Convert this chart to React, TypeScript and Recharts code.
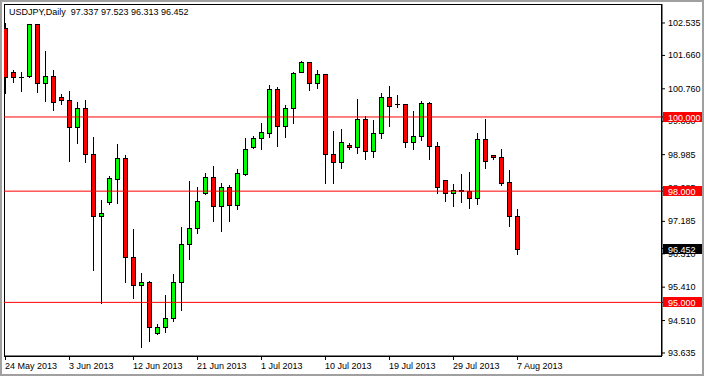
import { ComposedChart, Bar, XAxis, YAxis, ReferenceLine, ReferenceArea } from 'recharts';

// USDJPY daily candles, 24 May 2013 .. 7 Aug 2013 (Sunday bars included)
const opens = [
  102.39, 101.2, 101.09, 101.1, 102.5, 100.91, 101.1, 100.53, 100.46, 99.72,
  100.23, 98.99, 97.34, 97.72, 98.34, 98.89, 96.23, 95.46, 95.56, 94.17,
  94.33, 94.57, 95.56, 96.57, 97.0, 97.94, 98.37, 97.59, 98.12, 97.62,
  98.46, 99.18, 99.42, 99.58, 100.75, 99.77, 100.23, 101.22, 101.47, 100.91,
  101.15, 98.99, 98.79, 99.25, 99.18, 99.95, 99.09, 99.56, 100.53, 100.35,
  100.34, 99.32, 99.49, 100.37, 99.23, 98.3, 97.94, 98.02, 98.0, 97.82,
  99.4, 98.97, 98.91, 98.24, 97.337,
];
const highs = [
  102.54, 101.27, 101.21, 102.52, 102.52, 101.78, 101.27, 100.61, 100.7, 100.4,
  100.46, 99.47, 97.76, 98.41, 99.27, 98.97, 96.99, 95.79, 95.58, 94.42,
  95.2, 95.77, 97.04, 98.27, 98.1, 98.48, 98.68, 98.21, 98.17, 98.59,
  99.42, 99.5, 99.83, 100.86, 100.8, 100.32, 101.22, 101.51, 101.48, 101.27,
  101.16, 99.62, 99.68, 99.31, 100.48, 100.03, 99.92, 100.64, 100.84, 100.59,
  100.35, 100.17, 100.44, 100.4, 99.33, 98.31, 98.19, 98.46, 98.51, 99.56,
  99.95, 98.98, 99.13, 98.57, 97.523,
];
const lows = [
  100.64, 100.93, 100.71, 101.08, 100.68, 100.44, 100.19, 100.36, 98.82, 99.31,
  98.79, 95.87, 94.98, 97.66, 97.69, 95.56, 95.11, 93.79, 93.97, 94.15,
  94.21, 94.51, 94.79, 96.18, 96.88, 97.93, 97.2, 96.93, 97.2, 97.52,
  98.43, 99.17, 99.14, 99.47, 99.22, 99.47, 99.85, 101.21, 100.73, 100.79,
  98.21, 98.23, 98.63, 99.13, 99.04, 98.87, 98.92, 99.44, 99.77, 100.26,
  99.2, 99.13, 99.38, 98.86, 97.94, 97.74, 97.61, 97.7, 97.55, 97.65,
  98.63, 98.86, 98.17, 97.06, 96.313,
];
const closes = [
  101.07, 101.07, 101.08, 102.5, 100.91, 101.1, 100.41, 100.47, 99.72, 100.23,
  98.99, 97.34, 97.41, 98.35, 98.89, 96.23, 95.46, 95.56, 94.33, 94.33,
  94.57, 95.56, 96.57, 97.0, 97.74, 98.37, 97.59, 98.12, 97.62, 98.48,
  99.15, 99.42, 99.59, 100.75, 99.77, 100.23, 101.18, 101.47, 100.91, 101.15,
  98.99, 98.79, 99.32, 99.18, 99.95, 99.09, 99.56, 100.53, 100.3, 100.34,
  99.32, 99.49, 100.37, 99.23, 98.12, 97.94, 98.03, 98.01, 97.82, 99.4,
  98.82, 98.91, 98.23, 97.33, 96.452,
];

const tickBars = [0, 8, 16, 24, 32, 40, 48, 56, 64];
const tickLabels = [
  '24 May 2013', '3 Jun 2013', '12 Jun 2013', '21 Jun 2013', '1 Jul 2013',
  '10 Jul 2013', '19 Jul 2013', '29 Jul 2013', '7 Aug 2013',
];
const priceTicks = [102.535, 101.66, 100.76, 99.88, 98.985, 98.085, 97.185, 96.31, 95.41, 94.51, 93.635];
const levels = [100, 98, 95];
const tagValues = [100, 98, 95, 96.452];
const tagColors = ['#ff0000', '#ff0000', '#ff0000', '#000'];
const title = 'USDJPY,Daily\u00a0\u00a097.337 97.523 96.313 96.452';

const data = opens.map((o, i) => ({
  i,
  open: o,
  high: highs[i],
  low: lows[i],
  close: closes[i],
  range: [lows[i], highs[i]],
}));

// tags go last so they are painted over the plain price labels
const axisTicks = [...priceTicks, ...tagValues];

const FONT = '"Liberation Sans", Arial, sans-serif';
const W = 704;
const H = 376;

const Candle = (props: any) => {
  const { x, y, width, height, payload } = props;
  if (!payload) return null;
  const { open, close, high, low } = payload;
  const cx = Math.floor(x + width / 2) + 0.5;
  const k = height / (high - low || 1);
  const py = (v: number) => y + (high - v) * k;
  const top = Math.round(py(Math.max(open, close))) + 0.5;
  const bot = Math.round(py(Math.min(open, close))) + 0.5;
  const up = close > open;
  return (
    <g>
      <line x1={cx} x2={cx} y1={Math.round(y)} y2={Math.round(y + height) + 1} stroke="#000" />
      {bot - top < 1 ? (
        <line x1={cx - 2.5} x2={cx + 2.5} y1={top} y2={top} stroke="#000" />
      ) : (
        <rect x={cx - 2} y={top} width={4} height={bot - top} fill={up ? '#00ff00' : '#ff0000'} stroke="#000" />
      )}
    </g>
  );
};

const DateTick = ({ x, y, payload }: any) => (
  <text x={Math.floor(x)} y={y + 9} fontSize={9} fontFamily={FONT} fill="#000" textAnchor="start">
    {tickLabels[tickBars.indexOf(payload.value)]}
  </text>
);

const PriceTick = ({ x, y, payload, index }: any) => {
  const v = Number(payload.value);
  if (index >= priceTicks.length) {
    const c = tagColors[index - priceTicks.length];
    const yy = Math.round(y);
    const bx = x - 5;
    return (
      <g>
        <rect x={bx} y={yy - 5} width={39} height={10} fill={c} />
        <text x={bx + 5} y={yy + 3.5} fontSize={9} fontFamily={FONT} fill="#fff">{v.toFixed(3)}</text>
      </g>
    );
  }
  return (
    <text x={x} y={y + 3} fontSize={9} fontFamily={FONT} fill="#000" textAnchor="start">
      {v.toFixed(3)}
    </text>
  );
};

const Frame = (props: any) => {
  const { x, y, width, height } = props;
  return (
    <rect x={Math.round(x) + 0.5} y={Math.round(y) + 0.5} width={Math.round(width) - 1} height={Math.round(height)} fill="none" stroke="#000" />
  );
};

export default function App() {
  return (
    <div style={{ position: 'absolute', left: 0, top: 0, width: W, height: H, background: '#fff' }}>
      <ComposedChart width={W} height={H} data={data} margin={{ top: 4, right: 0, bottom: 0, left: 4 }}>
        <XAxis
          dataKey="i"
          type="number"
          domain={[-0.1875, 82.0625]}
          allowDataOverflow
          ticks={tickBars}
          interval={0}
          height={20}
          tickSize={4}
          tickMargin={0}
          axisLine={{ stroke: '#000' }}
          tickLine={{ stroke: '#000' }}
          tick={<DateTick />}
        />
        <YAxis
          orientation="right"
          type="number"
          domain={[93.554, 103.047]}
          allowDataOverflow
          ticks={axisTicks}
          interval={0}
          width={42}
          tickSize={3}
          tickMargin={3}
          axisLine={{ stroke: '#000' }}
          tickLine={{ stroke: '#000' }}
          tick={<PriceTick />}
        />
        <ReferenceArea shape={<Frame />} ifOverflow="visible" />
        <Bar dataKey="range" barSize={5} shape={<Candle />} isAnimationActive={false} />
        {levels.map((lv) => (
          <ReferenceLine key={lv} y={lv} stroke="#ff0000" />
        ))}
      </ComposedChart>
      <div
        style={{
          position: 'absolute', left: 9, top: 7, fontSize: 9, fontFamily: FONT, color: '#000',
          whiteSpace: 'pre', lineHeight: '11px',
        }}
      >
        {title}
      </div>
      <div
        style={{
          position: 'absolute', left: 0, top: 0, width: W, height: H, boxSizing: 'border-box',
          border: '2px solid #a0a0a0', pointerEvents: 'none',
        }}
      />
    </div>
  );
}
